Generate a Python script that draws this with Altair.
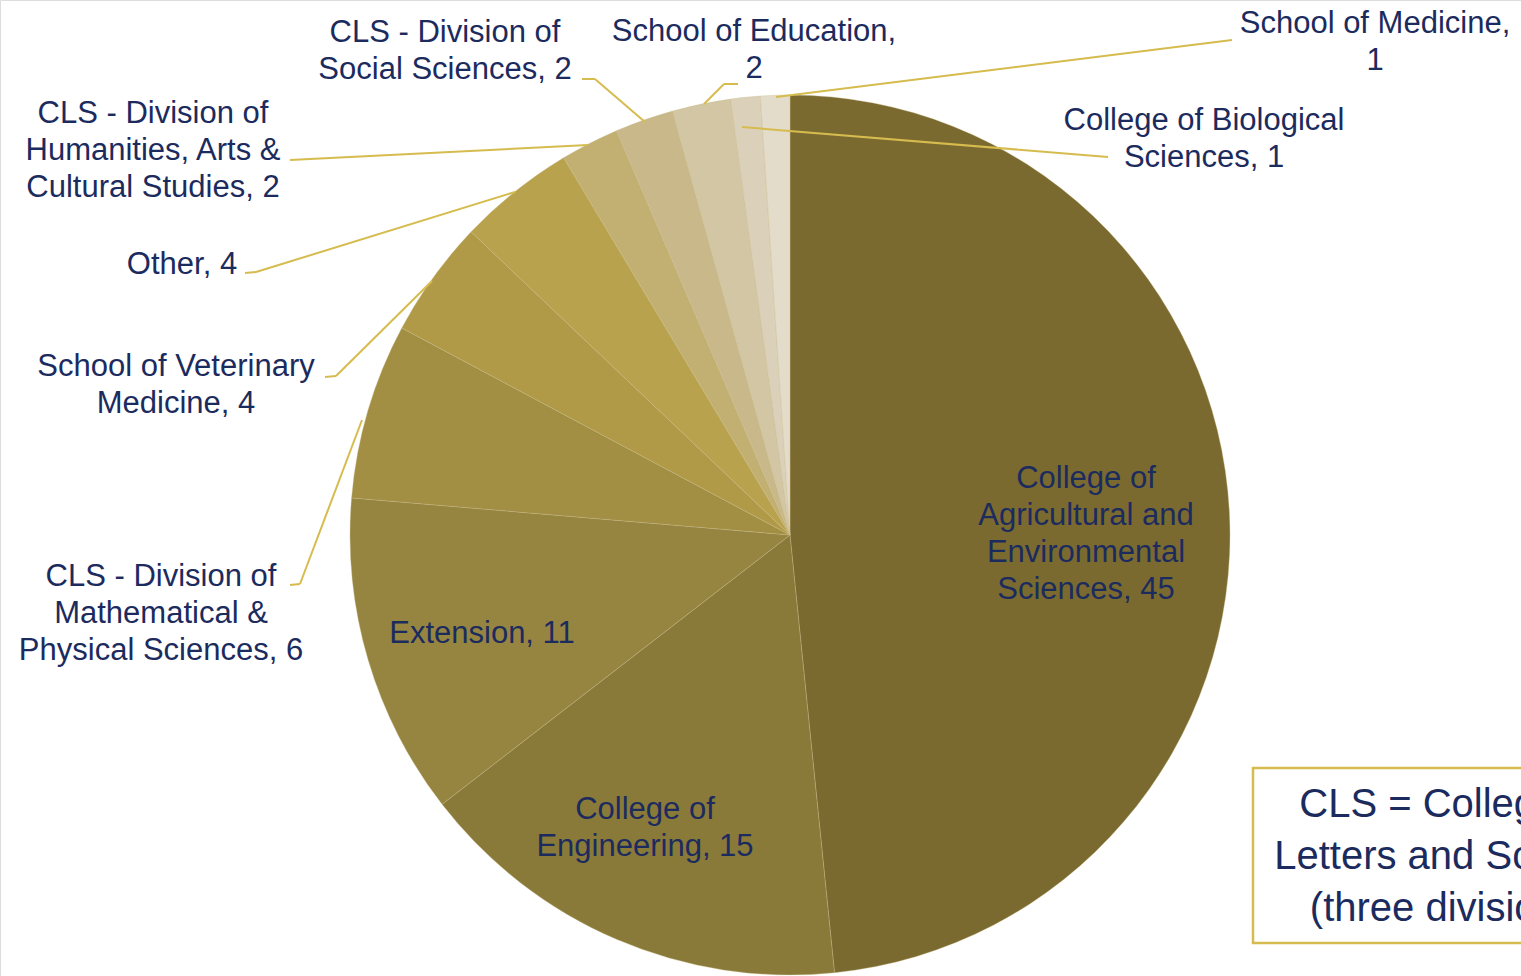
import altair as alt
import pandas as pd

W, H = 1521, 976

# ---- data ----
categories = [
    "College of Agricultural and Environmental Sciences",
    "College of Engineering",
    "Extension",
    "CLS - Division of Mathematical & Physical Sciences",
    "School of Veterinary Medicine",
    "Other",
    "CLS - Division of Humanities, Arts & Cultural Studies",
    "CLS - Division of Social Sciences",
    "School of Education",
    "College of Biological Sciences",
    "School of Medicine",
]
values = [45, 15, 11, 6, 4, 4, 2, 2, 2, 1, 1]
label_texts = [
    "College of\nAgricultural and\nEnvironmental\nSciences, 45",
    "College of\nEngineering, 15",
    "Extension, 11",
    "CLS - Division of\nMathematical &\nPhysical Sciences, 6",
    "School of Veterinary\nMedicine, 4",
    "Other, 4",
    "CLS - Division of\nHumanities, Arts &\nCultural Studies, 2",
    "CLS - Division of\nSocial Sciences, 2",
    "School of Education,\n2",
    "College of Biological\nSciences, 1",
    "School of Medicine,\n1",
]
note_text = "CLS = College of\nLetters and Science\n(three divisions)"

# ---- styles / layout ----
slice_colors = ["#7A6A30", "#8A7A39", "#968541", "#A28F43", "#B09A48", "#B9A24D",
                "#C2AF72", "#C9B98A", "#D3C6A4", "#DBD1BA", "#E4DCCA"]
CX, CY, R = 790, 535, 440
label_pos = [  # (x, y of first line centre) in pixels
    (1086, 479), (645, 810), (482, 634), (161, 577), (176, 367), (182, 265),
    (153, 114), (445, 33), (754, 32), (1204, 121), (1375, 24),
]
leaders = [  # polyline segments (x1, y1, x2, y2)
    (362, 420, 300, 584), (300, 584, 290, 585),
    (432, 281, 336, 376), (336, 376, 325, 377),
    (515, 192, 256, 272), (256, 272, 245, 273),
    (588, 145, 290, 160),
    (645, 122, 595, 79), (595, 79, 582, 79),
    (704, 104, 724, 84), (724, 84, 738, 84),
    (742, 127, 1108, 157),
    (776, 97, 1232, 40),
]
TEXT_COLOR = "#1C2B5E"
GOLD = "#D6BC4E"

xs = alt.Scale(domain=[0, W], range=[0, W])
ys = alt.Scale(domain=[0, H], range=[0, H])

pie_df = pd.DataFrame({"cat": categories, "value": values, "order": range(len(values))})
pie = alt.Chart(pie_df).mark_arc(radius=R, stroke="#C8BA86", strokeWidth=0.5, strokeOpacity=0.7).encode(
    theta=alt.Theta("value:Q", stack=True),
    order=alt.Order("order:Q"),
    color=alt.Color("cat:N", scale=alt.Scale(domain=categories, range=slice_colors), legend=None),
    x=alt.value(CX),
    y=alt.value(CY),
)

lead_df = pd.DataFrame(leaders, columns=["x", "y", "x2", "y2"])
lines = alt.Chart(lead_df).mark_rule(color=GOLD, strokeWidth=2).encode(
    x=alt.X("x:Q", scale=xs, axis=None),
    y=alt.Y("y:Q", scale=ys, axis=None),
    x2="x2:Q",
    y2="y2:Q",
)

lab_df = pd.DataFrame({
    "text": label_texts,
    "x": [p[0] for p in label_pos],
    "y": [p[1] for p in label_pos],
})
labels = alt.Chart(lab_df).mark_text(
    font="Liberation Sans", fontSize=31, lineHeight=37, lineBreak="\n",
    align="center", baseline="middle", color=TEXT_COLOR,
).encode(
    x=alt.X("x:Q", scale=xs, axis=None),
    y=alt.Y("y:Q", scale=ys, axis=None),
    text="text:N",
)

box_df = pd.DataFrame({"x": [1253], "x2": [1650], "y": [768], "y2": [943]})
box = alt.Chart(box_df).mark_rect(fill=None, stroke=GOLD, strokeWidth=2.5).encode(
    x=alt.X("x:Q", scale=xs, axis=None),
    y=alt.Y("y:Q", scale=ys, axis=None),
    x2="x2:Q",
    y2="y2:Q",
)
note_df = pd.DataFrame({"text": [note_text], "x": [1451], "y": [805]})
note = alt.Chart(note_df).mark_text(
    font="Liberation Sans", fontSize=40, lineHeight=52, lineBreak="\n",
    align="center", baseline="middle", color=TEXT_COLOR,
).encode(
    x=alt.X("x:Q", scale=xs, axis=None),
    y=alt.Y("y:Q", scale=ys, axis=None),
    text="text:N",
)

chart = alt.layer(pie, lines, labels, box, note).resolve_scale(color="independent").properties(
    width=W, height=H, padding=0,
    autosize=alt.AutoSizeParams(type="none"),
).configure_view(stroke=None, strokeWidth=0).configure(background="white")

chart.save("out.html", embed_options={"renderer": "svg", "actions": False})
